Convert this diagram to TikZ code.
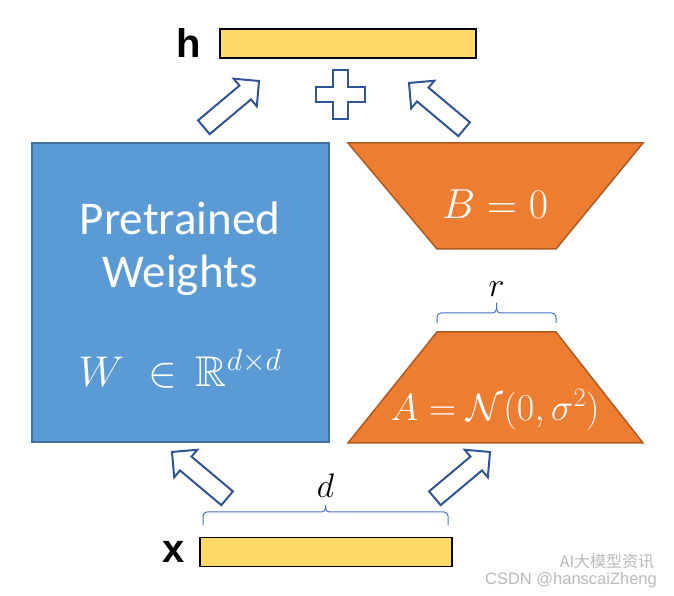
\documentclass[tikz,border=0pt]{standalone}
\usepackage{fix-cm}
\usepackage{amsmath}
\usepackage{amssymb}
\usepackage[no-math]{fontspec}
\setmainfont{Carlito}
\newfontfamily\labelfont{Liberation Sans}
\newfontfamily\cjkfont{Noto Sans CJK SC}
\usepackage{tikz}
\usetikzlibrary{shapes.geometric, shapes.arrows, arrows.meta, positioning, calc}

\definecolor{wblue}{HTML}{5B9BD5}
\definecolor{wblueline}{HTML}{41719C}
\definecolor{lorange}{HTML}{ED7D31}
\definecolor{lorangeline}{HTML}{AE5A21}
\definecolor{vecgold}{HTML}{FFD966}
\definecolor{arrowblue}{HTML}{2F5597}
\definecolor{bracelight}{HTML}{4472C4}

\begin{document}
\begin{tikzpicture}[
    x=1pt, y=1pt,
    weight/.style={rectangle, draw=wblueline, fill=wblue, line width=1.5pt, minimum width=297pt, minimum height=299pt, inner sep=0pt},
    lowrank/.style={draw=lorangeline, fill=lorange, line width=1.5pt, line join=miter},
    vec/.style={rectangle, draw=black, fill=vecgold, line width=1.5pt, minimum height=29pt, inner sep=0pt},
    fatarrow/.style={single arrow, draw=arrowblue, fill=white, line width=2pt, minimum height=72pt, inner sep=8pt, single arrow head extend=9pt},
    whitetxt/.style={text=white, font=\fontsize{47}{52}\selectfont},
    mathtxt/.style={text=white, font=\fontsize{38}{42}\selectfont},
    dimtxt/.style={font=\fontsize{34}{38}\selectfont},
    vectxt/.style={font=\labelfont\bfseries\fontsize{40}{44}\selectfont, inner sep=0pt},
    brc/.style={draw=bracelight, line width=1pt, rounded corners=4pt},
    wmark/.style={text=gray!55, inner sep=0pt},
]
\useasboundingbox (0,0) rectangle (674,596);

% frozen weights
\node[weight] (W) at (180.5,303.5) {};
\node[whitetxt] (pre) at (180,378) {Pretrained};
\node[whitetxt] (wts) at (180,321) {Weights};
\node[mathtxt, font=\fontsize{43}{46}\selectfont] (wdim) at (180,227) {$W\;\in\,\mathbb{R}^{d\times d}$};

% low-rank factors
\coordinate (Atl) at (437,264);
\coordinate (Atr) at (556,264);
\draw[lowrank] (Atl) -- (Atr) -- (643,153) -- (348,153) -- cycle;
\draw[lowrank] (348,453) -- (643,453) -- (556,347) -- (437,347) -- cycle;
\node[mathtxt] (Atxt) at (495,186) {$A=\mathcal{N}(0,\sigma^2)$};
\node[mathtxt, font=\fontsize{42}{46}\selectfont] (Btxt) at (495,392) {$B=0$};

% input / output vectors
\node[vec, minimum width=256pt] (h) at (348,552.5) {};
\node[vec, minimum width=252pt] (x) at (326,44) {};
\node[vectxt, left=18pt of h] (hlab) {h};
\node[vectxt, left=14pt of x] (xlab) {x};

% dimension braces
\coordinate (dl) at (203,71);
\coordinate (dr) at (448,71);
\coordinate (dtip) at (325.5,91);
\draw[brc] (dl) |- (dtip |- 0,84) -- (dtip);
\draw[brc] (dtip) -- (dtip |- 0,84) -| (dr);
\node[dimtxt, above=4pt of dtip] (d) {$d$};
\coordinate (rtip) at (496.5,293);
\draw[brc] (Atl |- 0,273) |- (rtip |- 0,283) -- (rtip);
\draw[brc] (rtip) -- (rtip |- 0,283) -| (Atr |- 0,273);
\node[dimtxt, above=3pt of rtip] (r) {$r$};

% flow arrows
\node[fatarrow, rotate=140] (upW) at (203,118) {};
\node[fatarrow, rotate=40] (upA) at (459,118) {};
\node[fatarrow, rotate=40] (outW) at (228,489) {};
\node[fatarrow, rotate=140] (outB) at (440,487) {};

% sum
\coordinate (plus) at (340,501);
\draw[arrowblue, fill=white, line width=2pt] (plus) ++(-7.5,24.5) -- ++(15,0) -- ++(0,-17) -- ++(17,0) -- ++(0,-15) -- ++(-17,0) -- ++(0,-17) -- ++(-15,0) -- ++(0,17) -- ++(-17,0) -- ++(0,15) -- ++(17,0) -- cycle;

% watermark
\node[wmark, font=\cjkfont\fontsize{16}{17}\selectfont] (wm1) at (607,34) {AI大模型资讯};
\node[wmark, font=\labelfont\fontsize{16.5}{17}\selectfont] (wm2) at (571,16) {CSDN @hanscaiZheng};
\end{tikzpicture}
\end{document}
